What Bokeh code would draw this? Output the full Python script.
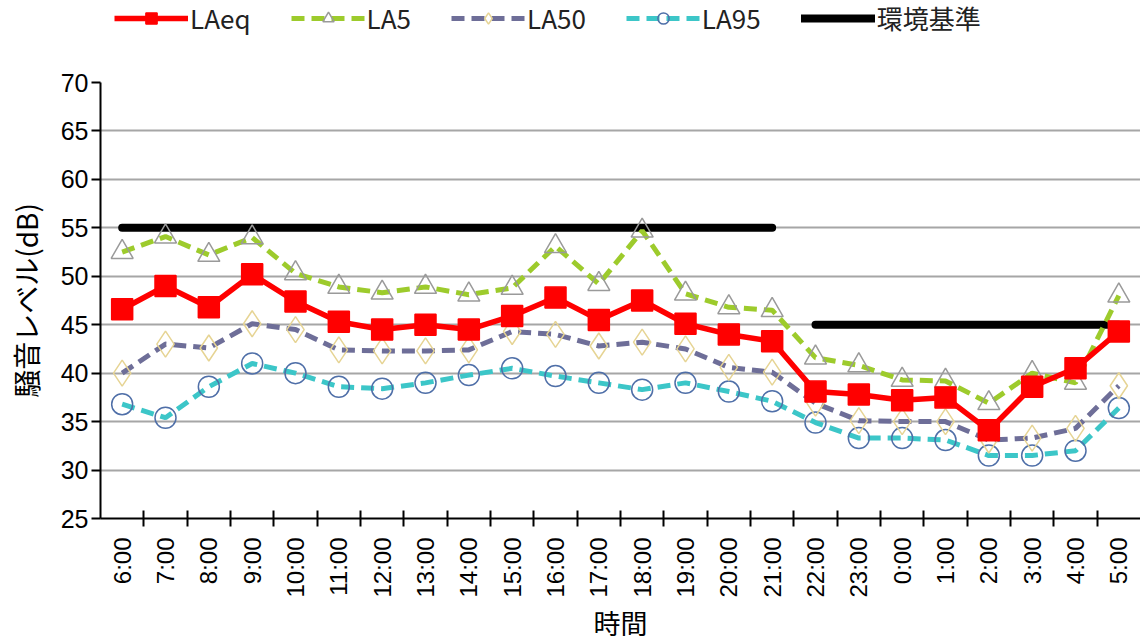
from bokeh.plotting import figure
from bokeh.layouts import column
from bokeh.models import Range1d, FixedTicker, Legend, LegendItem
from bokeh.embed import file_html
from bokeh.resources import INLINE

hours = ["6:00", "7:00", "8:00", "9:00", "10:00", "11:00", "12:00", "13:00",
         "14:00", "15:00", "16:00", "17:00", "18:00", "19:00", "20:00", "21:00",
         "22:00", "23:00", "0:00", "1:00", "2:00", "3:00", "4:00", "5:00"]
laeq = [46.6, 49.0, 46.8, 50.2, 47.4, 45.3, 44.5, 45.0, 44.5, 45.9, 47.8, 45.5,
        47.5, 45.1, 44.0, 43.3, 38.1, 37.8, 37.2, 37.5, 34.1, 38.6, 40.5, 44.3]
la5 = [52.5, 54.1, 52.2, 54.0, 50.3, 48.9, 48.3, 48.9, 48.1, 48.8, 53.1, 49.2,
       54.7, 48.2, 46.8, 46.5, 41.6, 40.8, 39.3, 39.2, 36.9, 40.0, 39.0, 48.0]
la50 = [40.0, 43.0, 42.6, 45.1, 44.5, 42.4, 42.3, 42.3, 42.4, 44.3, 44.0, 42.8,
        43.2, 42.5, 40.6, 40.1, 36.9, 35.1, 35.0, 35.0, 33.1, 33.3, 34.3, 38.7]
la95 = [36.8, 35.4, 38.6, 41.0, 40.0, 38.6, 38.4, 39.0, 39.8, 40.5, 39.7, 39.0,
        38.3, 39.0, 38.1, 37.1, 34.9, 33.3, 33.3, 33.1, 31.5, 31.5, 32.0, 36.4]
standard_day = [55, 55, 55, 55, 55, 55, 55, 55, 55, 55, 55, 55, 55, 55, 55, 55]
standard_night = [45, 45, 45, 45, 45, 45, 45, 45]
y_ticks = [25, 30, 35, 40, 45, 50, 55, 60, 65, 70]
series_names = ["LAeq", "LA5", "LA50", "LA95", "環境基準"]
x_title = "時間"
y_title = "騒音レベル(dB)"

x = list(range(len(hours)))
x_day = x[:len(standard_day)]
x_night = x[len(standard_day):]
series = {"LAeq": laeq, "LA5": la5, "LA50": la50, "LA95": la95}

LAT = "Liberation Sans"
JP = "Noto Sans CJK JP"

STY = {
    "LAeq": dict(color="#ff0000", dash="solid", lw=5.5, marker="square", size=21,
                 mfill="#ff0000", mline="#ff0000"),
    "LA5": dict(color="#9dcb2c", dash="13 7", lw=5, marker="triangle", size=22,
                mfill=None, mline="#9a9a9a"),
    "LA50": dict(color="#6e6e98", dash="13 7", lw=5, marker="diamond", size=26,
                 mfill=None, mline="#e6d494"),
    "LA95": dict(color="#3cc6c8", dash="13 7", lw=5, marker="circle", size=21,
                 mfill=None, mline="#4f6fa8"),
}

W = 1140

# ---------------- main plot ----------------
p = figure(width=W, height=584, output_backend="svg", toolbar_location=None,
           x_range=Range1d(-0.5, len(hours) - 0.5), y_range=Range1d(25, 70),
           min_border_left=100, min_border_right=0, min_border_bottom=122,
           min_border_top=22)
p.outline_line_color = None
p.background_fill_color = "white"

p.xgrid.grid_line_color = None
p.ygrid.grid_line_color = "#a6a6a6"
p.ygrid.grid_line_width = 2
p.ygrid.ticker = FixedTicker(ticks=y_ticks)

p.yaxis.ticker = FixedTicker(ticks=y_ticks)
p.yaxis.axis_line_width = 2
p.yaxis.axis_line_color = "black"
p.yaxis.major_tick_line_width = 2
p.yaxis.major_tick_out = 9
p.yaxis.major_tick_in = 0
p.yaxis.minor_tick_line_color = None
p.yaxis.major_label_text_font = LAT
p.yaxis.major_label_text_font_size = "25px"
p.yaxis.major_label_text_color = "black"
p.yaxis.major_label_standoff = 3
p.yaxis.axis_label = y_title
p.yaxis.axis_label_text_font = JP
p.yaxis.axis_label_text_font_size = "28px"
p.yaxis.axis_label_text_font_style = "normal"
p.yaxis.axis_label_text_color = "black"
p.yaxis.axis_label_standoff = 12

boundaries = [i + 0.5 for i in x[:-1]]
p.xaxis.ticker = FixedTicker(ticks=x, minor_ticks=boundaries)
p.xaxis.major_label_overrides = {i: h for i, h in zip(x, hours)}
p.xaxis.major_label_orientation = 1.5708
p.xaxis.major_label_text_font = LAT
p.xaxis.major_label_text_font_size = "24px"
p.xaxis.major_label_text_color = "black"
p.xaxis.major_label_standoff = 11
p.xaxis.major_tick_line_color = None
p.xaxis.major_tick_out = 0
p.xaxis.major_tick_in = 0
p.xaxis.minor_tick_line_color = "black"
p.xaxis.minor_tick_line_width = 2
p.xaxis.minor_tick_in = 8
p.xaxis.minor_tick_out = 8
p.xaxis.axis_line_width = 2
p.xaxis.axis_line_color = "black"
p.xaxis.axis_label = x_title
p.xaxis.axis_label_text_font = JP
p.xaxis.axis_label_text_font_size = "27px"
p.xaxis.axis_label_text_font_style = "normal"
p.xaxis.axis_label_text_color = "black"
p.xaxis.axis_label_standoff = 2

p.line(x_day, standard_day, line_color="black", line_width=8, line_cap="round")
p.line(x_night, standard_night, line_color="black", line_width=8, line_cap="round")

for name in ["LA95", "LA50", "LA5", "LAeq"]:
    s = STY[name]
    ys = series[name]
    p.line(x, ys, line_color=s["color"], line_width=s["lw"], line_dash=s["dash"])
    p.scatter(x, ys, marker=s["marker"], size=s["size"], fill_color=s["mfill"],
              line_color=s["mline"], line_width=1.5)

# ---------------- legend strip ----------------
# the same series are drawn here outside the visible range; only the legend shows
lg = figure(width=W, height=60, output_backend="svg", toolbar_location=None,
            x_range=Range1d(1000, 1001), y_range=Range1d(1000, 1001),
            x_axis_location=None, y_axis_location=None,
            min_border=0, min_border_left=0, min_border_right=0,
            min_border_top=0, min_border_bottom=0)
lg.grid.visible = False
lg.outline_line_color = None

items = []
for name in series_names[:4]:
    s = STY[name]
    ys = series[name]
    r1 = lg.line(x, ys, line_color=s["color"], line_width=s["lw"], line_dash=s["dash"])
    r2 = lg.scatter(x, ys, marker=s["marker"], size=s["size"], fill_color=s["mfill"],
                    line_color=s["mline"], line_width=1.5)
    items.append(LegendItem(label=name, renderers=[r1, r2]))
rs = lg.line(x_day, standard_day, line_color="black", line_width=8, line_cap="round")
items.append(LegendItem(label=series_names[4], renderers=[rs]))

legend = Legend(items=items, orientation="horizontal", location=(14, 24))
legend.label_text_font = JP
legend.label_text_font_size = "26px"
legend.label_text_color = "#222222"
legend.glyph_width = 74
legend.glyph_height = 28
legend.label_standoff = 2
legend.spacing = 40
legend.padding = 0
legend.margin = 0
legend.border_line_color = None
legend.background_fill_alpha = 0
legend.label_height = 28
lg.add_layout(legend)

layout = column(lg, p, spacing=0)
open("out.html", "w").write(file_html(layout, INLINE))
